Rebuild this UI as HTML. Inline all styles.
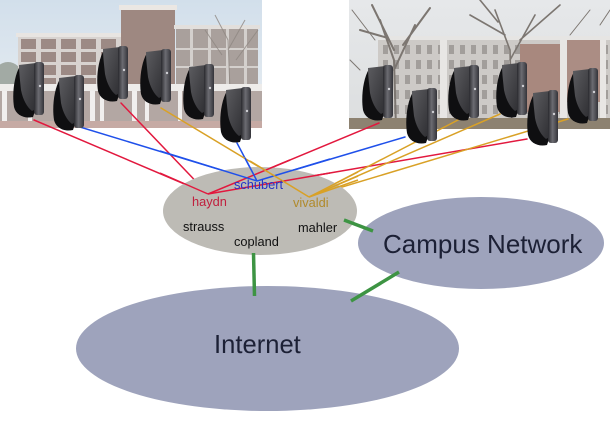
<!DOCTYPE html>
<html><head><meta charset="utf-8"><style>
html,body{margin:0;padding:0;background:#fff;}
svg{display:block;}
text{font-family:"Liberation Sans",Arial,sans-serif;}
</style></head><body>
<svg width="610" height="436" viewBox="0 0 610 436" xmlns="http://www.w3.org/2000/svg">
<defs>
<linearGradient id="skyL" x1="0" y1="0" x2="0" y2="1"><stop offset="0" stop-color="#d2dfeb"/><stop offset="1" stop-color="#e9eef2"/></linearGradient>
<linearGradient id="skyR" x1="0" y1="0" x2="0" y2="1"><stop offset="0" stop-color="#e6e8ea"/><stop offset="1" stop-color="#dcdedf"/></linearGradient>
<linearGradient id="front" x1="0" y1="0" x2="1" y2="1"><stop offset="0" stop-color="#5c5c60"/><stop offset="1" stop-color="#2e2e32"/></linearGradient>
<linearGradient id="side" x1="0" y1="0" x2="1" y2="0"><stop offset="0" stop-color="#2a2a2e"/><stop offset="0.45" stop-color="#6c6c72"/><stop offset="1" stop-color="#34343a"/></linearGradient>
<pattern id="winR" x="380" y="42" width="11" height="15" patternUnits="userSpaceOnUse"><rect width="11" height="15" fill="#cdcac7"/><rect x="3" y="3" width="5" height="9" fill="#a29e9b"/></pattern>
<pattern id="winL" x="18" y="37" width="20" height="13" patternUnits="userSpaceOnUse"><rect width="20" height="13" fill="#d8d3d0"/><rect x="3" y="2" width="15" height="10" fill="#9c8a85"/></pattern>
<symbol id="srv" viewBox="0 0 32 56" width="32" height="56">
<path d="M7,4 C1,14 -1,32 1,45 C3,53 11,57 20,55 L22,49 L22,8 Z" fill="#0f0f11"/>
<path d="M6,3 L23,1 L23,47 L19,49 C14,45 10,38 8,28 C7,18 6,10 6,3 Z" fill="url(#front)"/>
<rect x="21" y="0" width="10" height="53" rx="3" fill="url(#side)"/>
<circle cx="27" cy="24" r="1.2" fill="#cfcfd4"/>
</symbol>
<clipPath id="cL"><rect x="0" y="0" width="262" height="128"/></clipPath>
<clipPath id="cR"><rect x="349" y="0" width="261" height="129"/></clipPath>
</defs>

<!-- Left photo -->
<g clip-path="url(#cL)">
<rect x="0" y="0" width="262" height="128" fill="url(#skyL)"/>
<ellipse cx="8" cy="76" rx="14" ry="14" fill="#a2aaa4"/>
<rect x="18" y="37" width="103" height="52" fill="url(#winL)"/>
<rect x="16" y="33" width="107" height="4" fill="#e8e5e2"/>
<rect x="121" y="9" width="54" height="82" fill="#9e8881"/>
<rect x="119" y="5" width="58" height="5" fill="#ebe7e3"/>
<rect x="176" y="29" width="82" height="60" fill="#a9a09c"/>
<rect x="174" y="25" width="86" height="4" fill="#e2dfdc"/>
<g fill="#d4d0cd"><rect x="190" y="29" width="3" height="60"/><rect x="208" y="29" width="3" height="60"/><rect x="226" y="29" width="3" height="60"/><rect x="244" y="29" width="3" height="60"/><rect x="176" y="48" width="82" height="2"/><rect x="176" y="66" width="82" height="2"/></g>
<g stroke="#8e8782" stroke-width="1" fill="none" opacity="0.8"><path d="M230,90 L228,40 L215,15 M228,50 L245,20 M236,60 L258,30 M222,55 L205,30"/></g>
<rect x="0" y="84" width="262" height="7" fill="#eeecea"/>
<rect x="0" y="91" width="262" height="31" fill="#b3a7a3"/>
<g fill="#f1efee"><rect x="2" y="91" width="5" height="31"/><rect x="28" y="91" width="4" height="31"/><rect x="90" y="91" width="5" height="31"/><rect x="100" y="91" width="4" height="31"/><rect x="132" y="91" width="5" height="31"/><rect x="145" y="91" width="4" height="31"/><rect x="178" y="91" width="4" height="31"/></g>
<rect x="0" y="121" width="262" height="8" fill="#c6aaa4"/>
</g>

<!-- Right photo -->
<g clip-path="url(#cR)">
<rect x="349" y="0" width="261" height="129" fill="url(#skyR)"/>
<rect x="378" y="36" width="232" height="4" fill="#e6e5e3"/>
<rect x="378" y="40" width="232" height="78" fill="url(#winR)"/>
<rect x="520" y="44" width="40" height="68" fill="#a8887e"/>
<rect x="567" y="40" width="34" height="62" fill="#ab8d84"/>
<g fill="#e8e6e4"><rect x="440" y="40" width="7" height="78"/><rect x="560" y="40" width="7" height="78"/><rect x="600" y="40" width="6" height="78"/></g>
<g stroke="#7c7671" fill="none" stroke-linecap="round">
<path d="M396,128 L394,60 L380,20 M394,70 L415,25 M394,50 L372,5 M388,38 L360,30 M403,45 L430,8" stroke-width="2"/>
<path d="M512,128 L510,50 L495,10 M510,60 L535,15 M505,35 L470,15 M520,40 L560,5 M498,22 L480,0" stroke-width="1.6"/>
<path d="M352,10 L375,40 M360,70 L350,60 M590,10 L570,35 M600,25 L610,10" stroke-width="1"/>
</g>
<rect x="349" y="118" width="261" height="11" fill="#8d8271"/>
</g>

<!-- connector lines -->
<g stroke-width="1.5" fill="none" stroke-linecap="round">
<g stroke="#e2183e">
<line x1="34" y1="120" x2="208" y2="194"/>
<line x1="121" y1="103" x2="208" y2="194"/>
<line x1="379" y1="123" x2="208" y2="194"/>
<line x1="527" y1="139" x2="208" y2="194"/>
</g>
<g stroke="#1f50ea">
<line x1="80" y1="127" x2="257" y2="181"/>
<line x1="237" y1="143" x2="257" y2="181"/>
<line x1="405" y1="137" x2="257" y2="181"/>
</g>
<g stroke="#d9a126">
<line x1="161" y1="108" x2="309" y2="197"/>
<line x1="458" y1="120" x2="309" y2="197"/>
<line x1="500" y1="114" x2="309" y2="197"/>
<line x1="568" y1="119" x2="309" y2="197"/>
</g>
</g>

<!-- servers -->
<use href="#srv" x="13" y="62"/>
<use href="#srv" x="53" y="75"/>
<use href="#srv" x="97" y="46"/>
<use href="#srv" x="140" y="49"/>
<use href="#srv" x="183" y="64"/>
<use href="#srv" x="220" y="87"/>
<use href="#srv" x="362" y="65"/>
<use href="#srv" x="406" y="88"/>
<use href="#srv" x="448" y="65"/>
<use href="#srv" x="496" y="62"/>
<use href="#srv" x="527" y="90"/>
<use href="#srv" x="567" y="68"/>

<!-- ellipses -->
<ellipse cx="267.5" cy="348.5" rx="191.5" ry="62.5" fill="#9ea3bc"/>
<ellipse cx="481" cy="243" rx="123" ry="46" fill="#9ea3bc"/>
<ellipse cx="260" cy="211" rx="97" ry="44" fill="#bdbbb5"/>

<!-- lines over gray ellipse -->
<g stroke-width="1.5" fill="none">
<line x1="160" y1="173" x2="208" y2="194" stroke="#e2183e"/>
<line x1="208" y1="194" x2="290" y2="160" stroke="#e2183e"/>
<line x1="208" y1="194" x2="330" y2="173" stroke="#e2183e"/>
<line x1="160" y1="151" x2="257" y2="181" stroke="#1f50ea"/>
<line x1="245" y1="158" x2="257" y2="181" stroke="#1f50ea"/>
<line x1="257" y1="181" x2="330" y2="159" stroke="#1f50ea"/>
<line x1="250" y1="161" x2="309" y2="197" stroke="#d9a126"/>
<line x1="309" y1="197" x2="358" y2="172" stroke="#d9a126"/>
<line x1="309" y1="197" x2="358" y2="176" stroke="#d9a126"/>
<line x1="309" y1="197" x2="358" y2="180" stroke="#d9a126"/>
</g>

<!-- green links -->
<g stroke="#3d9443" stroke-width="3.5" stroke-linecap="butt">
<line x1="253.5" y1="253" x2="254.5" y2="296"/>
<line x1="344" y1="220" x2="373" y2="231"/>
<line x1="399" y1="272" x2="351" y2="301"/>
</g>

<!-- labels -->
<text x="234" y="189" font-size="12.8" fill="#2433c8">schubert</text>
<text x="192" y="206" font-size="12.8" fill="#c0203e">haydn</text>
<text x="293" y="207" font-size="12.8" fill="#b08a2c">vivaldi</text>
<text x="183" y="231" font-size="12.8" fill="#111">strauss</text>
<text x="298" y="232" font-size="12.8" fill="#111">mahler</text>
<text x="234" y="246" font-size="12.8" fill="#111">copland</text>
<text x="383" y="253" font-size="26" fill="#1c2035">Campus Network</text>
<text x="214" y="353" font-size="25.6" fill="#1c2035">Internet</text>
</svg>
</body></html>
